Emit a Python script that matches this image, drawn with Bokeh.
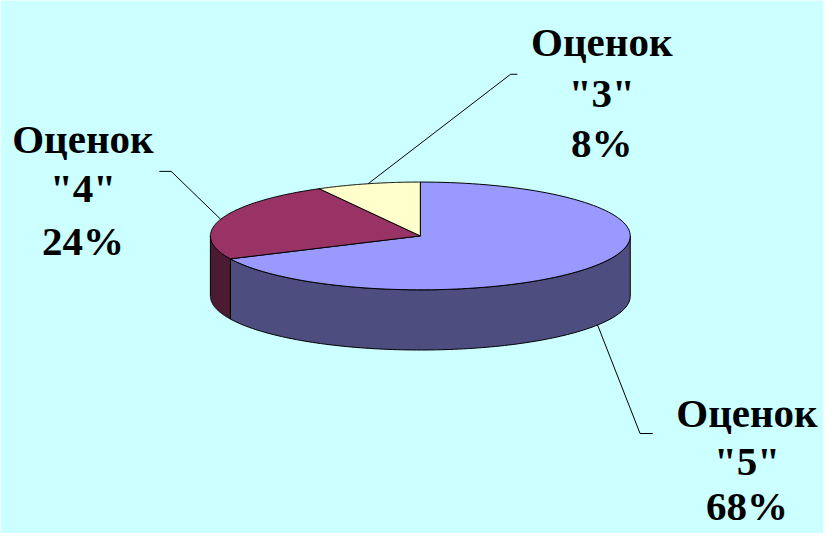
import numpy as np
from bokeh.plotting import figure
from bokeh.models import Range1d
from bokeh.embed import file_html
from bokeh.resources import INLINE
from bokeh.core.properties import value

# ---- data ----
grades = ["5", "4", "3"]
shares = [68, 24, 8]
label_word = "Оценок"
top_colors = ["#9999FF", "#993366", "#FFFFCC"]
side_colors = ["#4D4D80", "#4D1A33", "#80805F"]

# ---- layout ----
W, H = 823, 533
p = figure(width=W, height=H, x_range=Range1d(0, 839), y_range=Range1d(549, 0),
           output_backend="svg", toolbar_location=None, min_border=0)
p.axis.visible = False
p.grid.visible = False
p.outline_line_color = None
p.background_fill_color = "#CCFFFF"
p.border_fill_color = "#CCFFFF"

cx, cy, rx, ry, depth = 428, 242.5, 214, 55.5, 62


def arc(a, b, dy=0, n=120):
    t = np.radians(np.linspace(a, b, n))
    return list(cx + rx * np.sin(t)), list(cy - ry * np.cos(t) + dy)


cum = np.concatenate([[0], np.cumsum(shares)]) / sum(shares) * 360

# side walls (front half only: 90..270 deg clockwise from top)
sx, sy, sc = [], [], []
for i in range(len(shares)):
    s, e = max(cum[i], 90), min(cum[i + 1], 270)
    if e > s:
        tx, ty = arc(s, e)
        bx, by = arc(e, s, depth)
        sx.append(tx + bx)
        sy.append(ty + by)
        sc.append(side_colors[i])
p.patches(sx, sy, fill_color=sc, line_color="black", line_width=1)

# top faces
tx_, ty_ = [], []
for i in range(len(shares)):
    ax, ay = arc(cum[i], cum[i + 1])
    tx_.append([cx] + ax)
    ty_.append([cy] + ay)
p.patches(tx_, ty_, fill_color=top_colors, line_color="black", line_width=1)

# leader lines: start at slice midpoint on rim
elbows = {"5": [(652, 446), (665, 446)], "4": [(174, 176), (162, 176)], "3": [(520, 76), (527, 76)]}
lx, ly = [], []
for i, g in enumerate(grades):
    m = (cum[i] + cum[i + 1]) / 2
    dy = depth if 90 < m < 270 else 0
    t = np.radians(m)
    x0, y0 = cx + rx * np.sin(t), cy - ry * np.cos(t) + dy
    pts = [(x0, y0)] + elbows[g]
    lx.append([q[0] for q in pts])
    ly.append([q[1] for q in pts])
p.multi_line(lx, ly, line_color="black", line_width=1)

# labels
label_pos = {"5": (761, [425, 474, 521]), "4": (84, [143, 193, 248]), "3": (613, [43, 95, 147])}
xs, ys, texts = [], [], []
for g, s in zip(grades, shares):
    x, bl = label_pos[g]
    for yy, t in zip(bl, [label_word, f'"{g}"', f"{s}%"]):
        xs.append(x)
        ys.append(yy)
        texts.append(t)
p.text(xs, ys, text=texts, text_align="center", text_baseline="alphabetic",
       text_font=value("Liberation Serif"), text_font_style="bold",
       text_font_size="41px", text_color="black")

open("out.html", "w").write(file_html(p, INLINE))
